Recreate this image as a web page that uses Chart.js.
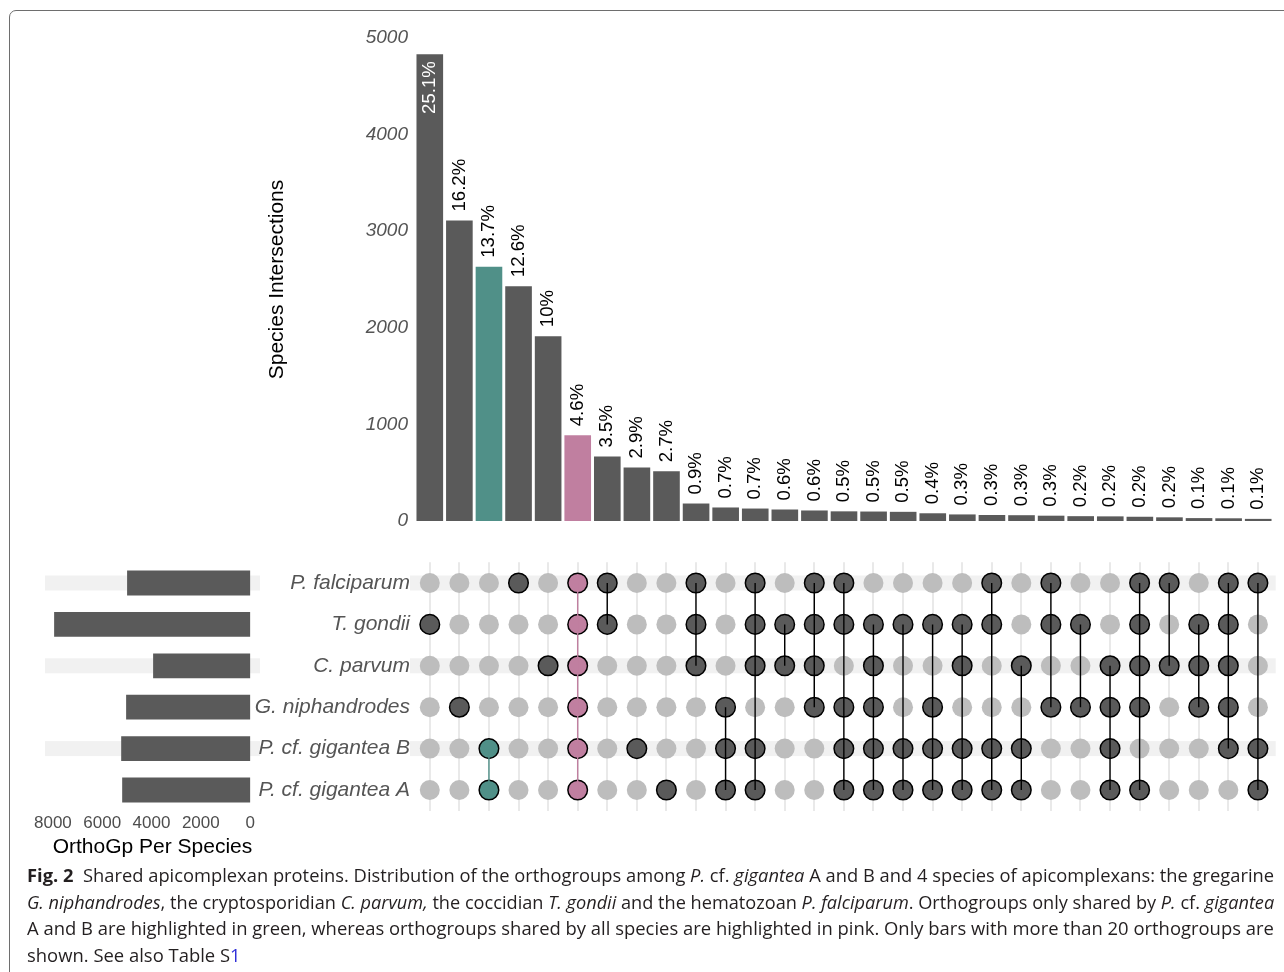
<!DOCTYPE html>
<html>
<head>
<meta charset="utf-8">
<script src="https://cdn.jsdelivr.net/npm/chart.js@4.4.1/dist/chart.umd.min.js"></script>
<style>
  body { margin: 0; background: #fff; width: 1284px; height: 972px; overflow: hidden; position: relative; }
  #frame { position: absolute; left: 9px; top: 10px; width: 1320px; height: 1000px; border: 1.5px solid #6e6e6e; border-radius: 7px; }
  canvas { position: absolute; }
  #cap { position: absolute; left: 27px; top: 862px; font-family: "Open Sans", sans-serif; font-size: 18px; line-height: 26.7px; color: #231f20; }
  #cap div { white-space: nowrap; transform-origin: 0 50%; width: max-content; }
  #cap .s1 { color: #2f2fd8; }
</style>
</head>
<body>
<div id="frame"></div>
<canvas id="top" width="1034" height="540" style="left:250px;top:0"></canvas>
<canvas id="sets" width="280" height="330" style="left:0;top:540px"></canvas>
<canvas id="matrix" width="1034" height="290" style="left:250px;top:540px"></canvas>
<div id="cap">
  <div><b>Fig. 2</b>&nbsp; Shared apicomplexan proteins. Distribution of the orthogroups among <i>P.</i> cf. <i>gigantea</i> A and B and 4 species of apicomplexans: the gregarine</div>
  <div><i>G. niphandrodes</i>, the cryptosporidian <i>C. parvum,</i> the coccidian <i>T. gondii</i> and the hematozoan <i>P. falciparum</i>. Orthogroups only shared by <i>P.</i> cf. <i>gigantea</i></div>
  <div>A and B are highlighted in green, whereas orthogroups shared by all species are highlighted in pink. Only bars with more than 20 orthogroups are</div>
  <div>shown. See also Table S<span class="s1">1</span></div>
</div>
<script>
// species rows, top to bottom in the matrix
const species = ['P. falciparum', 'T. gondii', 'C. parvum', 'G. niphandrodes', 'P. cf. gigantea B', 'P. cf. gigantea A'];
const setSizes = [4990, 7950, 3935, 5030, 5230, 5190];

// intersections, left to right
const intersectionSizes = [4832, 3111, 2632, 2431, 1913, 888, 668, 554, 515, 181, 140, 129, 119, 109,
  100, 98, 95, 80, 68, 62, 60, 55, 50, 48, 44, 38, 30, 28, 22];
const percentLabels = ['25.1%', '16.2%', '13.7%', '12.6%', '10%', '4.6%', '3.5%', '2.9%', '2.7%', '0.9%',
  '0.7%', '0.7%', '0.6%', '0.6%', '0.5%', '0.5%', '0.5%', '0.4%', '0.3%', '0.3%', '0.3%', '0.3%',
  '0.2%', '0.2%', '0.2%', '0.2%', '0.1%', '0.1%', '0.1%'];
// which species (row index) take part in each intersection
const members = [[1], [3], [4, 5], [0], [2], [0, 1, 2, 3, 4, 5], [0, 1], [4], [5], [0, 1, 2], [3, 4, 5],
  [0, 1, 2, 4, 5], [1, 2], [0, 1, 2, 3], [0, 1, 3, 4, 5], [1, 2, 3, 4, 5], [1, 4, 5], [1, 3, 4, 5],
  [1, 2, 4, 5], [0, 1, 4, 5], [2, 4, 5], [0, 1, 3], [1, 3], [2, 3, 4, 5], [0, 1, 2, 3, 5], [0, 2],
  [1, 2, 3], [0, 1, 2, 3, 4], [0, 4, 5]];
const yTicks = [0, 1000, 2000, 3000, 4000, 5000];
const setTicks = [0, 2000, 4000, 6000, 8000];

const FONT = '"Liberation Sans", Arial, sans-serif';
Chart.defaults.font.family = FONT;

const DARK = '#5a5a5a', GREEN = '#509088', PINK = '#c07fa0', LIGHT = '#bdbdbd';
const plain = v => String(v);

// green = only the two P. cf. gigantea, pink = shared by all species
function colColor(m) {
  if (m.length === species.length) return PINK;
  if (m.length === 2 && m.includes(4) && m.includes(5)) return GREEN;
  return DARK;
}
const colColors = members.map(colColor);
const colLabels = members.map((m, i) => 'I' + (i + 1));

const pctPlugin = {
  id: 'pct',
  afterDatasetsDraw(chart) {
    const ctx = chart.ctx;
    ctx.save();
    ctx.font = '18.6px ' + FONT;
    ctx.textBaseline = 'middle';
    chart.getDatasetMeta(0).data.forEach((bar, i) => {
      ctx.save();
      ctx.translate(bar.x, bar.y);
      ctx.rotate(-Math.PI / 2);
      if (i === 0) {
        ctx.fillStyle = '#fff';
        ctx.textAlign = 'right';
        ctx.fillText(percentLabels[i], -7, 0);
      } else {
        ctx.fillStyle = '#000';
        ctx.textAlign = 'left';
        ctx.fillText(percentLabels[i], 9, 0);
      }
      ctx.restore();
    });
    ctx.restore();
  }
};

const stripePlugin = {
  id: 'stripes',
  beforeDraw(chart, args, opts) {
    const { ctx, chartArea } = chart;
    const y = chart.scales.y;
    ctx.save();
    ctx.fillStyle = '#f1f1f1';
    species.forEach((s, i) => {
      if (i % 2) return;
      const yc = y.getPixelForValue(i);
      ctx.fillRect(chartArea.left - opts.l, yc - 7.5, chartArea.right - chartArea.left + opts.l + opts.r, 15);
    });
    ctx.restore();
  }
};

// top: intersection sizes
new Chart(document.getElementById('top'), {
  type: 'bar',
  data: {
    labels: colLabels,
    datasets: [{ data: intersectionSizes, backgroundColor: colColors, barPercentage: 0.9, categoryPercentage: 1 }]
  },
  options: {
    responsive: false,
    animation: false,
    layout: { padding: { left: 0, right: 11, top: 38, bottom: 19 } },
    plugins: { legend: { display: false }, tooltip: { enabled: false } },
    scales: {
      x: { display: false },
      y: {
        min: 0, max: 5000,
        afterBuildTicks: s => { s.ticks = yTicks.map(v => ({ value: v })); },
        ticks: { color: '#555', font: { size: 19, style: 'italic' }, padding: 7, callback: plain },
        grid: { display: false, drawTicks: false },
        border: { display: false },
        title: { display: true, text: 'Species Intersections', color: '#000', font: { size: 21 }, padding: { top: 15, bottom: 0 } },
        afterFit: s => { s.width = 165; }
      }
    }
  },
  plugins: [pctPlugin]
});

// left: orthogroups per species
new Chart(document.getElementById('sets'), {
  type: 'bar',
  data: {
    labels: species,
    datasets: [{ data: setSizes, backgroundColor: DARK, barPercentage: 0.6, categoryPercentage: 1 }]
  },
  options: {
    indexAxis: 'y',
    responsive: false,
    animation: false,
    layout: { padding: { left: 45, right: 20, top: 22.3, bottom: 9.3 } },
    plugins: { legend: { display: false }, tooltip: { enabled: false }, stripes: { l: 0, r: 0 } },
    scales: {
      x: {
        reverse: true, min: -400, max: 8320,
        afterBuildTicks: s => { s.ticks = setTicks.map(v => ({ value: v })); },
        ticks: { color: '#4d4d4d', font: { size: 17 }, padding: 2, maxRotation: 0, callback: plain },
        grid: { display: false, drawTicks: false },
        border: { display: false },
        title: { display: true, text: 'OrthoGp Per Species', color: '#000', font: { size: 21 }, padding: { top: 0, bottom: 1 } },
        afterFit: s => { s.height = 50; }
      },
      y: { display: false }
    }
  },
  plugins: [stripePlugin]
});

// matrix of dots
const greyPts = [], darkPts = [], greenPts = [], pinkPts = [];
const lineSets = [];
members.forEach((m, c) => {
  const col = colColors[c];
  const target = col === PINK ? pinkPts : col === GREEN ? greenPts : darkPts;
  species.forEach((s, r) => {
    (m.includes(r) ? target : greyPts).push({ x: c, y: s });
  });
  if (m.length > 1) {
    lineSets.push({
      type: 'line',
      data: [{ x: c, y: species[Math.min(...m)] }, { x: c, y: species[Math.max(...m)] }],
      borderColor: col === DARK ? '#000' : col,
      borderWidth: 1.4,
      pointRadius: 0,
      showLine: true,
      order: 0
    });
  }
});
const dotSet = (data, fill, border, bw, r) => ({
  data, pointBackgroundColor: fill, pointBorderColor: border, pointBorderWidth: bw, pointRadius: r, order: 1
});

new Chart(document.getElementById('matrix'), {
  type: 'scatter',
  data: {
    datasets: [
      dotSet(greyPts, LIGHT, LIGHT, 0, 10),
      dotSet(darkPts, DARK, '#000', 1.5, 9.8),
      dotSet(greenPts, GREEN, '#000', 1.5, 9.8),
      dotSet(pinkPts, PINK, '#000', 1.5, 9.8),
      ...lineSets
    ]
  },
  options: {
    responsive: false,
    animation: false,
    layout: { padding: { left: 0, right: 11, top: 22.3, bottom: 19.3 } },
    plugins: { legend: { display: false }, tooltip: { enabled: false }, stripes: { l: 5, r: 3 } },
    scales: {
      x: {
        type: 'linear', min: -0.5, max: members.length - 0.5,
        afterBuildTicks: s => { s.ticks = members.map((m, i) => ({ value: i })); },
        ticks: { display: false },
        grid: { color: '#e9e9e9', lineWidth: 2, drawTicks: false },
        border: { display: false },
        afterFit: s => { s.height = 0; }
      },
      y: {
        type: 'category', labels: species, offset: true,
        ticks: { color: '#555', font: { size: 21, style: 'italic' }, padding: 5 },
        grid: { display: false, drawTicks: false },
        border: { display: false },
        afterFit: s => { s.width = 165; }
      }
    }
  },
  plugins: [stripePlugin]
});

// squeeze caption lines to the column width
const lines = document.querySelectorAll('#cap div');
let k = 1;
lines.forEach((el, i) => {
  if (i < 3) k = 1247 / el.scrollWidth;
  el.style.transform = 'scaleX(' + k + ')';
});
</script>
</body>
</html>
